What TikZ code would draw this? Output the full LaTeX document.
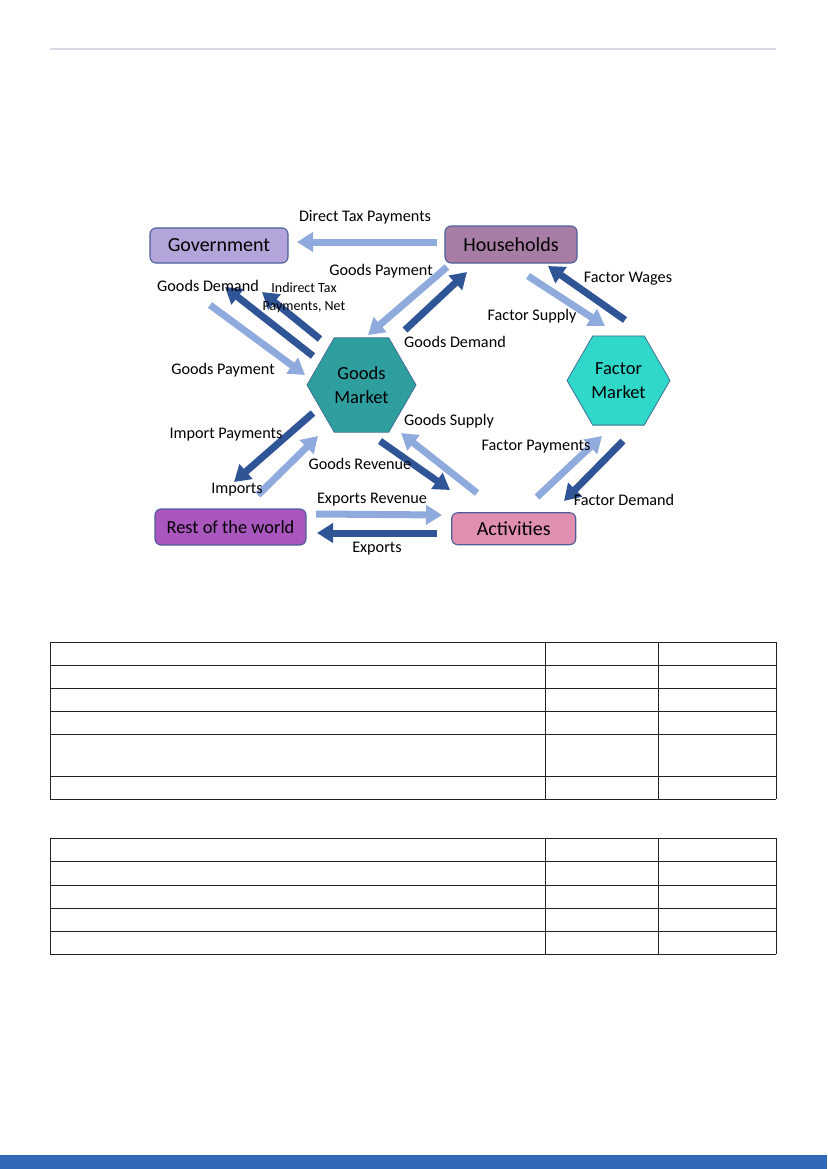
\documentclass[tikz,border=0pt]{standalone}
\usepackage{fontspec}
\setmainfont{Carlito}
\usepackage{tikz}
\usetikzlibrary{arrows.meta,shapes.geometric}
\definecolor{govCol}{HTML}{B3A4DA}
\definecolor{hhCol}{HTML}{A87DA5}
\definecolor{rowCol}{HTML}{A956BF}
\definecolor{actCol}{HTML}{E08FB1}
\definecolor{gmCol}{HTML}{2E9E9E}
\definecolor{fmCol}{HTML}{30D8CA}
\definecolor{boxEdge}{HTML}{4C5F98}
\definecolor{hexEdge}{HTML}{3F6F96}
\definecolor{flowLight}{HTML}{8FAADC}
\definecolor{flowDark}{HTML}{2F5597}
\definecolor{ruleCol}{HTML}{DADAE4}
\definecolor{bandCol}{HTML}{3169B9}
\definecolor{gridCol}{HTML}{222222}
\tikzset{
  agent/.style n args={2}{draw=boxEdge, fill=#1, rounded corners=6pt, line width=1.1pt,
        inner sep=0pt, minimum height=#2, font=\fontsize{20}{22}\selectfont},
  market/.style={regular polygon, regular polygon sides=6, draw=hexEdge, fill=#1,
        line width=0.8pt, inner sep=0pt, align=center, font=\fontsize{18.5}{24}\selectfont},
  lflow/.style={-{Triangle[length=16pt,width=19pt]}, line width=7pt, flowLight},
  dflow/.style={-{Triangle[length=16pt,width=19pt]}, line width=7pt, flowDark},
  flbl/.style={inner sep=0pt, font=\fontsize{16.2}{18}\selectfont, align=center},
  grid/.style={draw=gridCol, line width=0.9pt},
}

\begin{document}
\begin{tikzpicture}[x=1pt,y=-1pt]
  \useasboundingbox (0,0) rectangle (827,1169);
  % page furniture
  \draw[ruleCol, line width=1.3pt] (50,49) -- (776,49);
  \fill[bandCol] (0,1154.5) rectangle (827,1169);

  % sectors
  \node[agent={govCol}{35pt}, minimum width=138pt] (gov) at (219,245.5){Government};
  \node[agent={hhCol}{37pt}, minimum width=132pt] (hh) at (511,244.5){Households};
  \node[agent={rowCol}{36pt}, minimum width=151pt, font=\fontsize{18.4}{20}\selectfont] (row) at (230.5,527){Rest of the world};
  \node[agent={actCol}{32pt}, minimum width=124pt] (act) at (513.7,528.7){Activities};
  \node[market=gmCol, minimum size=109pt] (gm) at (361.5,385){Goods\\Market};
  \node[market=fmCol, minimum size=103pt] (fm) at (618.5,380.5){Factor\\Market};

  % arrow ends
  \coordinate (dtA) at (437,242);  \coordinate (dtB) at (297,242);
  \coordinate (gpA) at (447,267);  \coordinate (gpB) at (368,335);
  \coordinate (gdA) at (405,330);  \coordinate (gdB) at (467,272);
  \coordinate (glA) at (313,356);  \coordinate (glB) at (225,287);
  \coordinate (itA) at (320,339);  \coordinate (itB) at (262,292);
  \coordinate (plA) at (210,305);  \coordinate (plB) at (305,375);
  \coordinate (ipA) at (313,413);  \coordinate (ipB) at (234,482);
  \coordinate (imA) at (258,495);  \coordinate (imB) at (318,436);
  \coordinate (grA) at (380,441);  \coordinate (grB) at (450,490);
  \coordinate (gsA) at (477,493);  \coordinate (gsB) at (401,433);
  \coordinate (fpA) at (537,497);  \coordinate (fpB) at (602,436);
  \coordinate (fdA) at (623,441);  \coordinate (fdB) at (564,501);
  \coordinate (fsA) at (528,276);  \coordinate (fsB) at (605,326);
  \coordinate (fwA) at (625,320);  \coordinate (fwB) at (548,266);
  \coordinate (erA) at (316,514);  \coordinate (erB) at (442,515);
  \coordinate (exA) at (437,533);  \coordinate (exB) at (317,533);

  \draw[lflow] (dtA) -- (dtB);
  \draw[lflow] (gpA) -- (gpB);
  \draw[dflow] (gdA) -- (gdB);
  \draw[dflow] (glA) -- (glB);
  \draw[dflow] (itA) -- (itB);
  \draw[lflow] (plA) -- (plB);
  \draw[dflow] (ipA) -- (ipB);
  \draw[lflow] (imA) -- (imB);
  \draw[dflow] (grA) -- (grB);
  \draw[lflow] (gsA) -- (gsB);
  \draw[lflow] (fpA) -- (fpB);
  \draw[dflow] (fdA) -- (fdB);
  \draw[lflow] (fsA) -- (fsB);
  \draw[dflow] (fwA) -- (fwB);
  \draw[lflow] (erA) -- (erB);
  \draw[dflow] (exA) -- (exB);

  % flow labels
  \node[flbl] (ldt) at (365,217){Direct Tax Payments};
  \node[flbl] (lgp) at (381,271){Goods Payment};
  \node[flbl] (lgd) at (455,342){Goods Demand};
  \node[flbl] (lgl) at (208,286){Goods Demand};
  \node[flbl, font=\fontsize{14}{18}\selectfont] (lit) at (304,298){Indirect Tax\\Payments, Net};
  \node[flbl] (lpl) at (223,370){Goods Payment};
  \node[flbl] (lip) at (226,435){Import Payments};
  \node[flbl] (lim) at (237,490){Imports};
  \node[flbl] (lgr) at (360,464){Goods Revenue};
  \node[flbl] (lgs) at (449,421){Goods Supply};
  \node[flbl] (lfp) at (536,447){Factor Payments};
  \node[flbl] (lfd) at (624,500){Factor Demand};
  \node[flbl] (lfs) at (532,316){Factor Supply};
  \node[flbl] (lfw) at (628,279){Factor Wages};
  \node[flbl] (ler) at (372,500){Exports Revenue};
  \node[flbl] (lex) at (377,549){Exports};

  % empty tables
  \foreach \y in {642,665,688,711,734,776,799}
    \draw[grid] (50,\y) -- (776,\y);
  \foreach \x in {50,545,658,776}
    \draw[grid] (\x,642) -- (\x,799);
  \foreach \y in {838,861.7,885.3,908.3,931.3,954.3}
    \draw[grid] (50,\y) -- (776,\y);
  \foreach \x in {50,545,658,776}
    \draw[grid] (\x,838) -- (\x,954.3);
\end{tikzpicture}
\end{document}
